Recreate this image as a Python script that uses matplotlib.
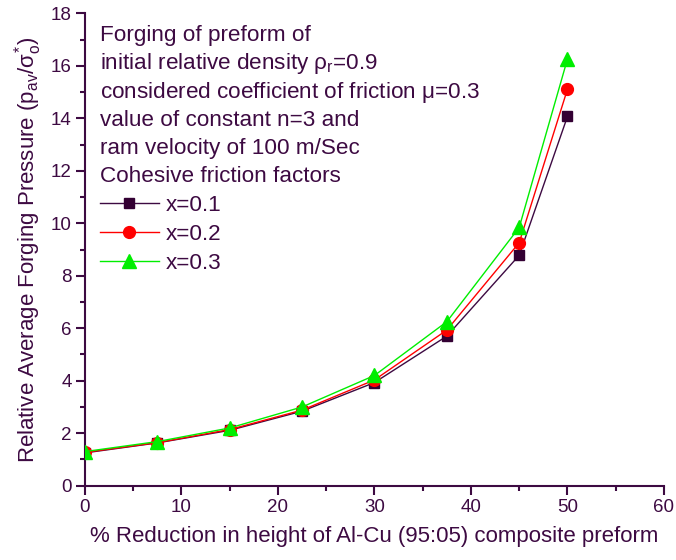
import matplotlib
matplotlib.use("Agg")
import matplotlib.pyplot as plt
from matplotlib.ticker import MultipleLocator
from matplotlib.lines import Line2D

reduction = [0, 7.5, 15, 22.5, 30, 37.5, 45, 50]
x01 = [1.25, 1.63, 2.11, 2.84, 3.93, 5.70, 8.78, 14.07]
x02 = [1.27, 1.64, 2.14, 2.88, 4.03, 5.93, 9.26, 15.11]
x03 = [1.30, 1.68, 2.20, 3.00, 4.20, 6.25, 9.84, 16.26]
series_labels = ["x=0.1", "x=0.2", "x=0.3"]
info_lines = [
    "Forging of preform of",
    r"initial relative density $\rho_\mathregular{r}$=0.9",
    r"considered coefficient of friction $\mu$=0.3",
    "value of constant n=3 and",
    "ram velocity of 100 m/Sec",
    "Cohesive friction factors",
]

plt.rcParams['font.family'] = ['Liberation Sans', 'DejaVu Sans']
plt.rcParams['mathtext.fontset'] = 'custom'
plt.rcParams['mathtext.rm'] = 'Liberation Sans'
plt.rcParams['mathtext.it'] = 'Liberation Sans'
plt.rcParams['mathtext.bf'] = 'Liberation Sans:bold'

tc = '#3d0a42'
fig = plt.figure(figsize=(6.76, 5.6), dpi=100)
ax = fig.add_axes([0.1257, 0.1327, 0.8565, 0.8435])

styles = [
    dict(color='#3d0a42', lw=1, marker='s', ms=7.5, mfc='#330033', mec='#330033'),
    dict(color='#ff0000', lw=1, marker='o', ms=8.5, mfc='#ff0000', mec='#ff0000'),
    dict(color='#00ee00', lw=1, marker='^', ms=9.5, mfc='#00ee00', mec='#00ee00'),
]
for i, ys in enumerate([x01, x02, x03]):
    ax.plot(reduction, ys, zorder=3 + i, **styles[i])

ax.set_xlim(0, 60)
ax.set_ylim(0, 18)
ax.xaxis.set_major_locator(MultipleLocator(10))
ax.xaxis.set_minor_locator(MultipleLocator(5))
ax.yaxis.set_major_locator(MultipleLocator(2))
ax.yaxis.set_minor_locator(MultipleLocator(1))
for s in ['top', 'right']:
    ax.spines[s].set_visible(False)
for s in ['left', 'bottom']:
    ax.spines[s].set_color(tc)
    ax.spines[s].set_linewidth(1.5)
ax.tick_params(which='major', direction='out', length=6.5, width=1.5, color=tc, labelcolor=tc, labelsize=13.5, pad=3)
ax.tick_params(which='minor', direction='out', length=3.5, width=1.5, color=tc)

ax.set_xlabel("% Reduction in height of Al-Cu (95:05) composite preform", fontsize=16, color=tc, labelpad=7)
ax.set_ylabel(r"Relative Average Forging Pressure (p$_\mathregular{av}$/$\sigma^{*}_\mathregular{o}$)",
              fontsize=16, color=tc, labelpad=5)

y0 = 0.953
dy = 0.0598
for i, line in enumerate(info_lines):
    ax.text(0.026, y0 - i * dy, line, transform=ax.transAxes, fontsize=16.2, color=tc, va='center', ha='left')

handles = [Line2D([], [], **st) for st in styles]
leg = ax.legend(handles, series_labels, loc='upper left', bbox_to_anchor=(0.026, 0.616),
                frameon=False, fontsize=16.2, handlelength=2.6, handletextpad=0.3,
                labelspacing=0.36, borderaxespad=0, borderpad=0)
for t in leg.get_texts():
    t.set_color(tc)

fig.savefig("out.png", dpi=100)
